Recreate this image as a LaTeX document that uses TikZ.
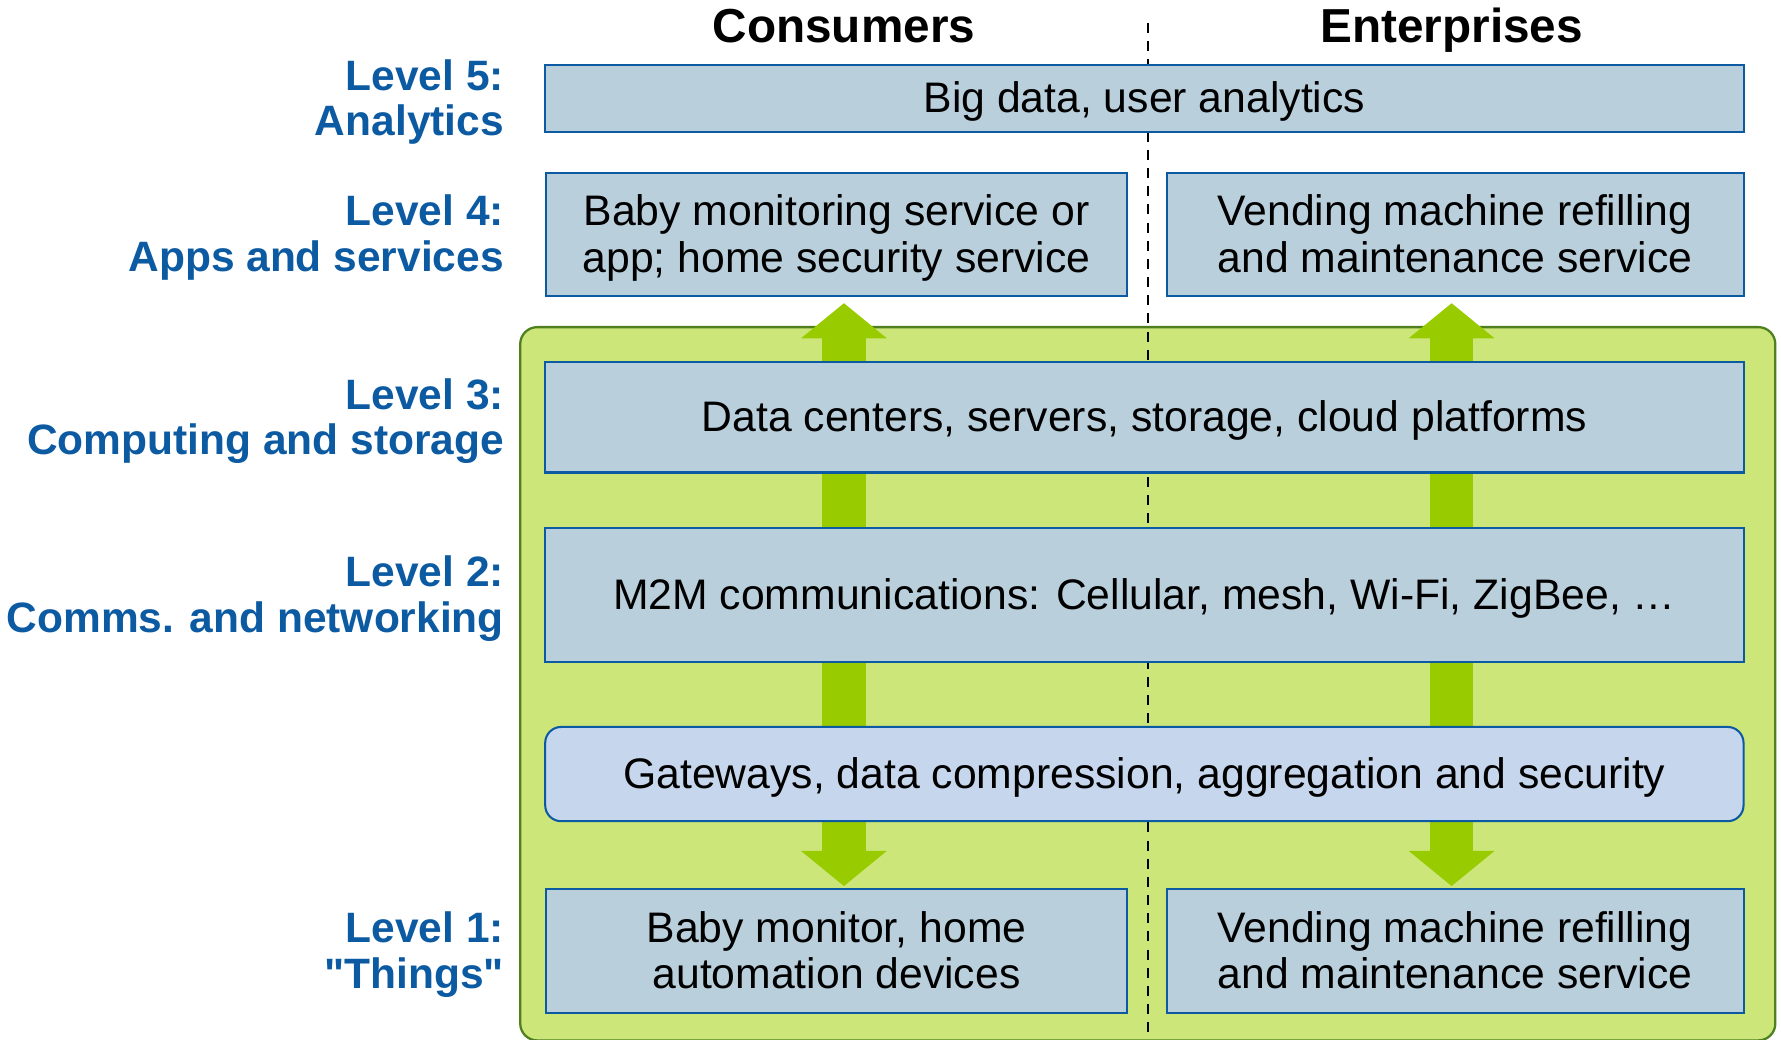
\documentclass[tikz,border=0pt]{standalone}
\usepackage{fontspec}
\setmainfont{Liberation Sans}[Ligatures=TeXOff]
\usetikzlibrary{arrows.meta}
\definecolor{boxfill}{HTML}{B9CFDC}
\definecolor{boxblue}{HTML}{0B5AA2}
\definecolor{gwfill}{HTML}{C6D6EC}
\definecolor{panelfill}{HTML}{CDE67A}
\definecolor{paneldraw}{HTML}{4F7F1F}
\definecolor{flowgreen}{HTML}{99CC00}
\definecolor{lvlblue}{HTML}{0B5AA2}
\pgfdeclarelayer{bg}
\pgfdeclarelayer{mid}
\pgfsetlayers{bg,mid,main}
% one text line with a fixed height and depth, so every box centres alike
\newcommand\fixln[1]{\raisebox{0pt}[13.5pt][0.9pt]{#1}}
\begin{document}
\begin{tikzpicture}[x=0.5pt,y=-0.5pt,
  layerbox/.style={draw=boxblue,fill=boxfill,line width=0.9pt,inner sep=0pt,
    align=center,font=\fontsize{18.8}{20.5}\selectfont},
  widebox/.style={layerbox,minimum width=527.5pt},
  halfbox/.style={layerbox,minimum width=256pt,minimum height=54.5pt},
  gwbox/.style={widebox,fill=gwfill,rounded corners=7pt},
  lvl/.style={anchor=east,align=right,text=lvlblue,inner sep=0pt,
    font=\fontsize{18.7}{20}\selectfont\bfseries},
  coltitle/.style={anchor=base,inner sep=0pt,font=\fontsize{21}{24}\selectfont\bfseries},
  flow/.style={draw=flowgreen,line width=19pt,
    {Triangle[length=15.5pt,width=37pt]}-{Triangle[length=15.5pt,width=37pt]}},
  divider/.style={black,line width=0.8pt,dash pattern=on 4.4pt off 3.6pt}
]
\useasboundingbox (0,0) rectangle (1568,915);

% column headings
\node[coltitle] (tcons) at (743,37.5) {Consumers};
\node[coltitle] (tent) at (1278,37.5) {Enterprises};

% level boxes
\node[widebox,minimum height=29.5pt] (l5) at (1007.5,86.5) {\fixln{Big data, user analytics}};
\node[halfbox] (l4c) at (736.5,206.5) {\fixln{Baby monitoring service or}\\\fixln{app; home security service}};
\node[halfbox,minimum width=254pt] (l4e) at (1281,206.5) {\fixln{Vending machine refilling}\\\fixln{and maintenance service}};
\node[widebox,minimum height=48.5pt] (l3) at (1007.5,367.5) {\fixln{Data centers, servers, storage, cloud platforms}};
\node[widebox,minimum height=59pt] (l2) at (1007.5,524) {\fixln{M2M communications: Cellular, mesh, Wi-Fi, ZigBee, …}};
\node[gwbox,minimum height=41.5pt] (gw) at (1007.5,681.5) {\fixln{Gateways, data compression, aggregation and security}};
\node[halfbox] (l1c) at (736.5,837.5) {\fixln{Baby monitor, home}\\\fixln{automation devices}};
\node[halfbox,minimum width=254pt] (l1e) at (1281,837.5) {\fixln{Vending machine refilling}\\\fixln{and maintenance service}};

% level labels
\node[lvl] (lab5) at (444,90) {Level 5:\\Analytics};
\node[lvl] (lab4) at (444,209) {Level 4:\\Apps and services};
\node[lvl] (lab3) at (444,370.5) {Level 3:\\Computing and storage};
\node[lvl] (lab2) at (444,527) {Level 2:\\Comms. and networking};
\node[lvl] (lab1) at (444,840.5) {Level 1:\\"Things"};

% panel and column divider
\begin{pgfonlayer}{bg}
  \node[draw=paneldraw,fill=panelfill,line width=1pt,rounded corners=7.5pt,
    inner sep=0pt,minimum width=552.5pt,minimum height=314pt] (panel) at (1010.5,602) {};
  \coordinate (dtop) at (1011,20);
  \coordinate (dbot) at (1011,915);
  \draw[divider] (dtop) -- (dbot);
\end{pgfonlayer}

% data flow between things and services
\begin{pgfonlayer}{mid}
  \draw[flow] ([xshift=3.25pt,yshift=-2.5pt]l4c.south) -- ([xshift=3.25pt,yshift=1pt]l1c.north);
  \draw[flow] ([xshift=-1.5pt,yshift=-2.5pt]l4e.south) -- ([xshift=-1.5pt,yshift=1pt]l1e.north);
\end{pgfonlayer}
\end{tikzpicture}
\end{document}
